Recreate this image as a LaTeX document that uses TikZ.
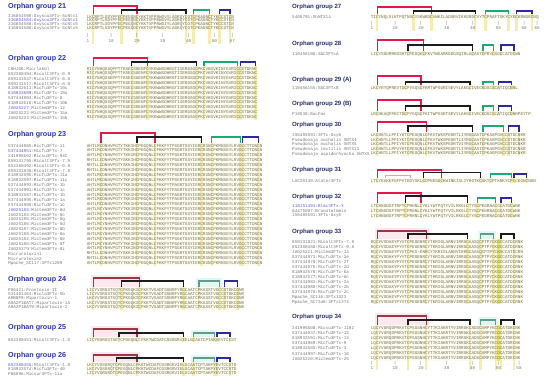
\documentclass[tikz,border=0pt]{standalone}
\usepackage{fontspec}
\setsansfont{Liberation Sans}
\setmonofont{Liberation Mono}
\usepackage{tikz}
\usetikzlibrary{calc}
\usepackage{xcolor}
\definecolor{grptitle}{HTML}{2B33B5}
\definecolor{grptitleR}{HTML}{2A2F6E}
\definecolor{seqink}{HTML}{727264}
\definecolor{nameink}{HTML}{767676}
\definecolor{nameblue}{HTML}{5A5AD8}
\definecolor{ssred}{HTML}{E8174B}
\definecolor{ssmaroon}{HTML}{9E3444}
\definecolor{ssgreen}{HTML}{1DAA72}
\definecolor{ssteal}{HTML}{5E9C8E}
\definecolor{ssblue}{HTML}{2B2B9E}
\definecolor{ssblack}{HTML}{1C1C1C}
\definecolor{sspale}{HTML}{F2A0A8}
\definecolor{cysbg}{HTML}{F5ECB0}
\definecolor{blockbg}{HTML}{FEFCEC}
\definecolor{hotcol}{HTML}{F2EC3A}
\definecolor{pinkbox}{HTML}{FCE8EE}
\definecolor{cyanbox}{HTML}{E3F6F2}

\def\colw{2.58}
% bracket over two cysteines: style, x of col 1, from col, to col, top y, foot y
\newcommand{\ssbond}[6]{\draw[#1] ({#2+(#3-1)*\colw},#6) |- ({#2+(#4-1)*\colw},#5) -- ({#2+(#4-1)*\colw},#6);}
% shaded column
\newcommand{\cyscol}[5][cysbg]{\fill[#1] ({#2+(#3-1.5)*\colw},#4) rectangle ({#2+(#3-0.5)*\colw},#5);}
% soft box behind a bracket
\newcommand{\bondbox}[6]{\fill[#1] ({#2+(#3-2)*\colw},{#5-3}) rectangle ({#2+(#4)*\colw},{#6+1});}

\begin{document}
\begin{tikzpicture}[x=1pt,y=-1pt,
  grouptitle/.style={anchor=west, inner sep=0pt, text=grptitle, font=\sffamily\bfseries\fontsize{7.2}{8}\selectfont},
  grouptitleR/.style={grouptitle, text=grptitleR, font=\sffamily\bfseries\fontsize{6.1}{7}\selectfont},
  seqname/.style={anchor=west, inner sep=0pt, text=nameink, font=\ttfamily\fontsize{4.3}{5}\selectfont},
  seqtext/.style={seqname, text=seqink},
  poslabel/.style={inner sep=0pt, text=nameink, font=\ttfamily\fontsize{4.3}{5}\selectfont},
  ssR/.style={draw=ssred, line width=1.25pt},
  ssK/.style={draw=ssblack, line width=1.25pt},
  ssG/.style={draw=ssgreen, line width=1.25pt},
  ssB/.style={draw=ssblue, line width=1.25pt},
  ssM/.style={draw=ssmaroon, line width=1.25pt},
  ssT/.style={draw=ssteal, line width=1.25pt},
  ssP/.style={draw=sspale, line width=0.6pt}]
\useasboundingbox (0,0) rectangle (550,385);
\fill[white] (0,0) rectangle (550,385);

% ---------------- left column ----------------
% group 21
\node[grouptitle] (t21) at (8,7) {Orphan group 21};
\fill[blockbg] (86.7,14.5) rectangle (233.8,31);
\foreach \c in {3,14,20,39,42,48,52,56} {\cyscol{88}{\c}{14.5}{44}}
\ssbond{ssR}{88}{3}{20}{6}{14.5}
\ssbond{ssK}{88}{14}{39}{10}{14.5}
\ssbond{ssG}{88}{42}{48}{10}{14.5}
\ssbond{ssB}{88}{52}{56}{10}{14.5}
\foreach \nm/\sq [count=\i] in {
  316854590:Oxyscu3FTx-ScNtx1/LKCRPTLSDYPFECPEGQNCYKKTVFPRWGVYLAGRQYCGTCPKAGNCTYKCCSTCN,
  \textcolor{nameblue}{316854584:Oxyscu3FTx-ScNtx1}/LKCRPTLSDYPFECPEGQNCYKKTVFPRWGVYLAGRQYCGTCPKAGNCTYKCCSTCN,
  316854588:Oxyscu3FTx-ScNtx5/LKCRPTLSDYPFECPEGQNCYKKTVFPRWGIYLAGRQYCGTCPKAGNCTYKCCSTCN,
  316854586:Oxyscu3FTx-ScNtx5/LKCRPTLSDYPFECPEGQDCYKKTVFPRWGVYLAGKQYCGTCPKAGNCTYKCCSTCN}
{
  \node[seqname] (g21n\i) at (8,{17+(\i-1)*3.9}) {\nm};
  \node[seqtext] (g21s\i) at (86.7,{17+(\i-1)*3.9}) {\sq};
}
\foreach \n in {1,10,20,30,40,50,57} {
  \node[poslabel] (g21t\n) at ({88+(\n-1)*\colw},35) {|};
  \node[poslabel] (g21p\n) at ({88+(\n-1)*\colw},41) {\n};
}

% group 22
\node[grouptitle] (t22) at (8,59) {Orphan group 22};
\fill[blockbg] (86.7,66.5) rectangle (256.3,120);
\foreach \c in {3,18,24,43,46,59,60,66} {\cyscol{88}{\c}{66.5}{120}}
\ssbond{ssR}{88}{3}{24}{58}{66}
\ssbond{ssK}{88}{18}{43}{62}{66}
\ssbond{ssG}{88}{46}{59}{62}{66}
\ssbond{ssB}{88}{60}{66}{62}{66}
\foreach \nm/\sq [count=\i] in {
  C0HJD6:Micrlakbl/RICYNHQSSQPPTTKSECSGENFCYKKWWSDHRGTIIERGSGCPKCVKGVKINYGVRICCSTDKNC,
  852380494:Micalt3FTx-0.9/RICYNHQSSQPPTTKSECSGENFCYKKWWSDHRGTIIERGSGCPKCVKGVKINYGVRICCSTDKNC,
  859131547:Micalt3FTx-8.0/RICYNHQSSEPPTTKSECSGENFCYKKWWSDHRGTIIERGSGCPKCVKGVKINYGVRICCSTDKNC,
  859131517:Micalt3FTx-8.0/RICYNHQSSEPPTTKSECSGENFCYKKWWSDHRGTIIERGSGCPKCVKGVKINYGVRICCSTDKNC,
  818932611:Micfu3FTx-10c/KICYNHQSSQPPTTKSECSGENFCYKKWWSDHRGTIIERGSGCPKCVKGVKIHYGVRICCSTDKNC,
  \textcolor{nameblue}{818932609}:Micfu3FTx-10a/KICYNHQSSQPPTTKSECSGENFCYKKWWSDHRGTIIERGSGCPKCVKGVKIHYGVRICCSTDKNC,
  537444993:Micfu3FTx-8/KICYNHQSSQPPTTKTECSGENFCYKKWWSDHRGTIIERGSGCPKCVKGVKIHYGVRICCSTDKNC,
  818932610:Micfu3FTx-10b/KICYNHQSSQPPTTKSECSGENFCYKKWWSDHRGTIIERGSGCPKCVKGVKIHYGVRICCSTDKNC,
  \textcolor{nameblue}{JA025227}:Mictem3FTx-12/RICYNHQSSQPPTTKSECSGENFCYKKWWSDHRGTIIERGSGCPKCVKGVKINYGVRICCSTDKNC,
  JA025222:Mictem3FTx-15a/RICYNHQSSQPPTTKSECSGENFCYKKWWSDHRGTIIERGSGCPKCVKGVKINYGVRICCSTDKNC,
  JA025223:Mictem3FTx-15b/RICYNHQSSQPPTTKSECSGENFCYKKWWSDHRGTIIERGSGCPKCVKGVKIHYGVRICCSTDKNC}
{
  \node[seqname] (g22n\i) at (8,{69+(\i-1)*4.85}) {\nm};
  \node[seqtext] (g22s\i) at (86.7,{69+(\i-1)*4.85}) {\sq};
}

% group 23
\node[grouptitle] (t23) at (8,135) {Orphan group 23};
\fill[blockbg] (86.7,143.5) rectangle (261.4,266);
\foreach \c in {6,20,27,45,49,60,61,67} {\cyscol{88}{\c}{143.5}{266}}
\ssbond{ssR}{88}{6}{27}{133}{143}
\ssbond{ssK}{88}{20}{45}{137}{143}
\ssbond{ssG}{88}{49}{60}{137}{143}
\ssbond{ssB}{88}{61}{67}{137}{143}
\foreach \nm/\sq [count=\i] in {
  537444985:Micfu3FTx-11/AHTLMCDNHVPGTYTKKIHCPEGQNLCFKKFYTPSGRTGSYIERCRSNCPKMNSGYLRVGCCTTDNCN,
  \textcolor{nameblue}{537444951}:Micfu3FTx-7/AHTLMCDNHVPGTYTKKIHCPEGQNLCFKKFYTPSGRTGSYIERCRSNCPKMNSGYLRVGCCTTDNCN,
  241995602:Micsu3FTx-94C/AHTLMCYNHVPGTYTKKIRCPEGQNLCFKKFYTPSGKTGSYIERCRSNCPKMNSGYLRVGCCTTDNCN,
  859131795:Micalt3FTx-7.9/RHTLLCDNHVPGTYSKKIHCPEGQNLCFKKFYTPSGRTGSYIERCRSNCPKMNSGYLRVGCCTTDNCN,
  852380492:Micalt3FTx-0.8/RHTLLCDNHVPGTYSKKIHCPEGQNLCFKKFYTPSGRTGSYIERCRSNCPKMNSGYLRVGCCTTDNCN,
  859131838:Micalt3FTx-7.8/RHTLLCDNHVPGTYSKKIHCPEGQNLCFKKFYTPSGRTGSYIERCRSNCPKMNSGYLRVGCCTTDNCN,
  818932595:Micfu3FTx-11a/AHTLMCDNHVPGTYTKKIHCPEGQNLCFKKFYTPSGRTGSYIERCRSNCPKMNSGYLRVGCCTTDNCN,
  818932597:Micfu3FTx-11c/AHTLMCDNHVPGTYTKKIHCPEGQNLCFKKFYTPSGRTGSYIERCRSNCPKMNSGYLRVGCCTTDNCN,
  537444993:Micfu3FTx-1b/AHTLMCDNHVPGTYTKKIHCPEGQNLCFKKFYTPAGRTGSYIERCRSNCPKMNSGYLRVGCCTTDNCN,
  537444991:Micfu3FTx-1c/AHTLMCDNHVPGTYTKKIHCPEGQNLCFKKFYTPAGRTGSYIERCRSNCPKMNSGYLRVGCCTTDNCN,
  818932587:Micfu3FTx-1b/AHTLMCDNHVPGTYTKKIHCPEGQNLCFKKFYTPAGRTGSYIERCRSNCPKMNSGYLRVGCCTTDNCN,
  537444995:Micfu3FTx-1a/AHTLMCDNHVPGTYTKKIHCPEGQNLCFKKFYTPAGRTGSYIERCRSNCPKMNSGYLRVGCCTTDNCN,
  537444988:Micfu3FTx-1c/AHTLMCDNHVPGTYTKKIHCPEGQNLCFKKFYTPSGRTGSYIERCRSNCPKMNSGYLRVGCCTTDNCN,
  \textcolor{nameblue}{JA025183}:Mictem3FTx-8d/AHTLMCYNHVPGTYTKKIRCPEGQNLCFKKFYTPSGKTGSYIERCRSNCPKMNSGYLRVGCCTTDNCN,
  JA025184:Mictem3FTx-8c/AHTLMCYNHVPGTYTKKIRCPEGQNLCFKKFYTPSGKTGSYIERCRSNCPKMNSGYLRVGCCTTDNCN,
  JA025185:Mictem3FTx-8g/AHTLMCYNHVPGTYTKKIRCPEGQNLCFKKFYTPSGKTGSYIERCRSNCPKMNSGYLRVGCCTTDNCN,
  JA025186:Mictem3FTx-8d/AHTLMCYNHVPGTYTKKIRCPEGQNLCFKKFYTPSGKTGSYIERCRSNCPKMNSGYLRVGCCTTDNCN,
  JA025187:Mictem3FTx-8b/AHTLMCYNHVPGTYTKKIRCPEGQNLCFKKFYTPSGKTGSYIERCRSNCPKMNSGYLRVGCCTTDNCN,
  JA025188:Mictem3FTx-8a/AHTLMCYNHVPGTYTKKIRCPEGQNLCFKKFYTPSGKTGSYIERCRSNCPKMNSGYLRVGCCTTDNCN,
  JA025182:Mictem3FTx-8e/AHTLMCYNHVPGTYTKKIRCPEGQNLCFKKFYTPSGKTGSYIERCRSNCPKMNSGYLRVGCCTTDNCN,
  JA025180:Mictem3FTx-8f/AHTLMCYNHVPGTYTKKIRCPEGQNLCFKKFYTPSGKTGSYIERCRSNCPKMNSGYLRVGCCTTDNCN,
  JA025179:Mictem3FTx-8i/AHTLMCYNHVPGTYTKKIRCPEGQNLCFKKFYTPSGKTGSYIERCRSNCPKMNSGYLRVGCCTTDNCN,
  Micrurotoxin1/RHTLLCDNHVPGTYSKKIHCPEGQNLCFKKFYTPSGRTGSYIERCRSNCPKMNSGYLRVGCCTTDNCN,
  Micrurotoxin2/RHTLLCDNHVPGTYSKKIHCPEGQNLCFKKFYTPSGRTGSYIERCRSNCPKMNSGYLRVGCCTTDNCN,
  Mpache\_SC117:3FTx1299/AHTLMCDNHVPGTYTKKIHCPEGQNLCFKKFYTPSGRTGSYIERCRSNCPKMNSGYLRVGCCTTDNCN}
{
  \node[seqname] (g23n\i) at (8,{146+(\i-1)*4.9}) {\nm};
  \node[seqtext] (g23s\i) at (86.7,{146+(\i-1)*4.9}) {\sq};
}

% group 24
\node[grouptitle] (t24) at (8,280) {Orphan group 24};
\bondbox{pinkbox}{88}{3}{21}{278}{287}
\bondbox{cyanbox}{88}{44}{52}{281}{287}
\fill[blockbg] (86.7,287.5) rectangle (243.4,310);
\foreach \c in {3,14,21,38,44,52,54,59} {\cyscol{88}{\c}{287.5}{310}}
\ssbond{ssM}{88}{3}{21}{278}{287}
\ssbond{ssK}{88}{14}{38}{281}{287}
\ssbond{ssT}{88}{44}{52}{281}{287}
\ssbond{ssB}{88}{54}{59}{281}{287}
\foreach \nm/\sq [count=\i] in {
  P86421:Frontoxin-II/LICYVSRGSTSQTCPKGQKICFKKTVSADTSGNRFYRGCAATCPKASSTVGCCSTDKCDNR,
  531481464:Micla3FTx-5b/LICYVSRGSTSQTCPKGQKICFKKTVSADTSGNRFYRGCAATCPKASSTVGCCSTDKCDNR,
  A0B8P9:Mipartoxin-1/LKCYVSRGSTSQTCPKGQKICFKKTVSAGTSGNRFYRGCAATCPKASSTVGCCSTDKCDNR,
  A0A2P1BAT7:Mipartoxin-1A/LKCYVSRGSTSQTCPKGQKICFKKTVSADTSGNRFYRGCAATCPKASSTVGCCSTDKCDNR,
  A0A2P1BAT9:Mipartoxin-2/LKCYVSRGSTSQTCPKGQKICFKKTVSADTSGNRFYRGCAATCPKASSTVGCCSTDKCDNR}
{
  \node[seqname] (g24n\i) at (8,{290+(\i-1)*4.4}) {\nm};
  \node[seqtext] (g24s\i) at (86.7,{290+(\i-1)*4.4}) {\sq};
}

% group 25
\node[grouptitle] (t25) at (8,328) {Orphan group 25};
\bondbox{pinkbox}{88}{3}{20}{329}{337}
\bondbox{cyanbox}{88}{42}{50}{333}{337}
\fill[blockbg] (86.7,337.5) rectangle (238.3,342.5);
\foreach \c in {3,13,20,38,42,50,51,56} {\cyscol{88}{\c}{337.5}{342.5}}
\ssbond{ssM}{88}{3}{20}{329}{337}
\ssbond{ssK}{88}{13}{38}{333}{337}
\ssbond{ssT}{88}{42}{50}{333}{337}
\ssbond{ssB}{88}{51}{56}{333}{337}
\node[seqname] (g25n1) at (8,340) {852380451:Micalt3FTx-1.0};
\node[seqtext] (g25s1) at (86.7,340) {LICYNSRDSTSETCPDGQNLCFKKTWCDAFCGSRGRVIELGCAATCPTAKVEVTCCST};

% group 26
\node[grouptitle] (t26) at (8,356) {Orphan group 26};
\bondbox{pinkbox}{88}{3}{20}{355}{362}
\bondbox{cyanbox}{88}{42}{50}{358}{362}
\fill[blockbg] (86.7,362.5) rectangle (238.3,376);
\foreach \c in {3,12,20,38,42,50,51,56} {\cyscol{88}{\c}{362.5}{376}}
\ssbond{ssM}{88}{3}{20}{355}{362}
\ssbond{ssK}{88}{12}{38}{358}{362}
\ssbond{ssT}{88}{42}{50}{358}{362}
\ssbond{ssB}{88}{51}{56}{358}{362}
\foreach \nm/\sq [count=\i] in {
  \textcolor{nameblue}{852380455}:Micalt3FTx-1.9/LKCYVGSGRQTCPEGQNLCFKKTWCDAFCGSRGKVIELGCAATCPTAKPYEVTCCSTD,
  818932574:Micfu3FTx-40/LKCYVGSGRQTCPEGQNLCFKKTWCDAFCGSRGRVIELGCAATCPTAKPYEVTCCSTD,
  P86096:Micsur3FTx-11a/LICYVSRGRDTCPEGQNLCFKKTWCDAFCGSRGKVIELGCAATCPTAKPYEVTCCSTD}
{
  \node[seqname] (g26n\i) at (8,{365+(\i-1)*4.3}) {\nm};
  \node[seqtext] (g26s\i) at (86.7,{365+(\i-1)*4.3}) {\sq};
}

% ---------------- right column ----------------
% group 27
\node[grouptitleR] (t27) at (292,7) {Orphan group 27};
\fill[blockbg] (370.7,14.5) rectangle (539.3,19.5);
\foreach \c in {3,17,24,41,45,54,57,63} {\cyscol{372}{\c}{14.5}{31}}
\ssbond{ssR}{372}{3}{24}{7}{14.5}
\ssbond{ssK}{372}{17}{41}{11}{14.5}
\ssbond{ssG}{372}{45}{54}{11}{14.5}
\ssbond{ssB}{372}{57}{63}{11}{14.5}
\node[seqname] (g27n1) at (292,17) {5405791:ShNTX14};
\node[seqtext] (g27s1) at (370.7,17) {TICYNQLSLKTPQTNSCYSKWRDCVWKILADGRVIKKGRDCVYTCPRAFTGKYCYDCKRNDRCNQ};
\foreach \n in {1,10,20,30,40,50,60,65} {
  \node[poslabel] (g27t\n) at ({372+(\n-1)*\colw},23) {|};
  \node[poslabel] (g27p\n) at ({372+(\n-1)*\colw},28) {\n};
}

% group 28
\node[grouptitleR] (t28) at (292,44) {Orphan group 28};
\fill[blockbg] (370.7,51.5) rectangle (521.3,56.5);
\foreach \c in {3,15,21,40,44,48,51,56} {\cyscol{372}{\c}{51.5}{56.5}}
\ssbond{ssR}{372}{3}{21}{40}{51}
\ssbond{ssK}{372}{15}{40}{45}{51}
\ssbond{ssG}{372}{44}{48}{45}{51}
\ssbond{ssB}{372}{51}{56}{45}{51}
\node[seqname] (g28n1) at (292,54) {110456106:SbC3FTxA};
\node[seqtext] (g28s1) at (370.7,54) {LICYSGDMRKDSHTCPEGQKCFKVTWKARKEDGSQIRLACASTCPRVCSGCCATDCWN};

% group 29 (A)
\node[grouptitleR] (t29a) at (292,80) {Orphan group 29 (A)};
\fill[blockbg] (370.7,85.5) rectangle (518.7,90.5);
\foreach \c in {3,14,20,39,44,48,50,55} {\cyscol{372}{\c}{85.5}{90.5}}
\ssbond{ssR}{372}{3}{20}{76}{85}
\ssbond{ssK}{372}{14}{39}{82}{85}
\ssbond{ssG}{372}{44}{48}{82}{85}
\ssbond{ssB}{372}{50}{55}{82}{85}
\node[seqname] (g29an1) at (292,88) {110456155:SbC3FTxB};
\node[seqtext] (g29as1) at (370.7,88) {LKCYRTQPREVTDCPYGQSCFKMTWPSGRISEVYLAKGCIVECKDGCSCATIQCNNL};

% group 29 (B)
\node[grouptitleR] (t29b) at (292,104) {Orphan group 29 (B)};
\fill[blockbg] (370.7,111.5) rectangle (531.6,116.5);
\foreach \c in {3,14,20,39,44,48,50,55} {\cyscol{372}{\c}{111.5}{116.5}}
\ssbond{ssR}{372}{3}{20}{100}{111}
\ssbond{ssK}{372}{14}{39}{106}{111}
\ssbond{ssG}{372}{44}{48}{106}{111}
\ssbond{ssB}{372}{50}{55}{106}{111}
\node[seqname] (g29bn1) at (292,114) {P19538:BucFas};
\node[seqtext] (g29bs1) at (370.7,114) {LRCHKAQFPKCTDCPYGQSCFKITWPSGRTSEVYLAKGCIVECKDGCSCATIQCDNRPEYTP};

% group 30
\node[grouptitleR] (t30) at (292,125) {Orphan group 30};
\fill[blockbg] (370.7,133) rectangle (526.7,156.5);
\foreach \c in {3,15,22,40,44,52,54,58} {\cyscol{372}{\c}{133}{156.5}}
\ssbond{ssR}{372}{3}{22}{122}{132.5}
\ssbond{ssK}{372}{15}{40}{126}{132.5}
\ssbond{ssG}{372}{44}{52}{126}{132.5}
\ssbond{ssB}{372}{54}{58}{126}{132.5}
\foreach \nm/\sq [count=\i] in {
  156485591:3FTx-Oxy6/LKCHNTLLPFIYKTCPEGQNLCFKVTWKSPEGRTLIYRGCAATCPKAGPGVCCSTDCNKR,
  Pseudonaja nuchalis SNTX4/LKCHNTLLPFIYKTCPEGQNLCFKVTWKSPEGRTLIYRGCAATCPKAGPGVCCSTDCNKR,
  Pseudonaja nuchalis SNTX5/LKCHNTLLPFIYKTCPEGQNLCFKVTWKSPEGRTVIYRGCAATCPKAGPGVCCSTDCNKR,
  Pseudonaja textilis SNTX13/LKCHNTLLPFVYKTCPEGQNLCFKVTWKSPEGRTLIYRGCAATCPKAGPGVCCSTDCNKR,
  Pseudonaja aspidorhyncha SNTX5/LKCHNTLLPFIYKTCPEGQNLCFKVTWKSPEGRTLIYRGCAATCPKAGPGVCCSTDCNKR}
{
  \node[seqname] (g30n\i) at (292,{135.5+(\i-1)*4.6}) {\nm};
  \node[seqtext] (g30s\i) at (370.7,{135.5+(\i-1)*4.6}) {\sq};
}

% group 31
\node[grouptitleR] (t31) at (292,170) {Orphan group 31};
\fill[blockbg] (370.7,178.5) rectangle (536.8,183.5);
\foreach \c in {3,21,28,43,47,55,56,61} {\cyscol{372}{\c}{178.5}{183.5}}
\ssbond{ssR}{372}{3}{28}{170}{178}
\ssbond{ssP}{372}{6}{16}{175}{178}
\ssbond{ssK}{372}{21}{43}{172.5}{178}
\ssbond{ssG}{372}{47}{55}{174}{178}
\ssbond{ssB}{372}{56}{61}{174}{178}
\node[seqname] (g31n1) at (292,181) {LAC20140:Atater3FTx};
\node[seqtext] (g31s1) at (370.7,181) {LTCYKAKEFGFPVTEDYSKLCDPNKSGCKWINKISLIYRGTKCAKTCPTKNKYCPCCKGNCNKN};

% group 32
\node[grouptitleR] (t32) at (292,197) {Orphan group 32};
\fill[blockbg] (370.7,203.5) rectangle (519.9,218.5);
\foreach \c in {3,14,20,38,42,49,51,55} {\cyscol{372}{\c}{203.5}{218.5}}
\ssbond{ssR}{372}{3}{20}{193}{203}
\ssbond{ssK}{372}{14}{38}{196}{203}
\ssbond{ssG}{372}{42}{49}{198}{203}
\ssbond{ssB}{372}{51}{55}{198}{203}
\foreach \nm/\sq [count=\i] in {
  \textcolor{nameblue}{118151491:Blac3FTx-3}/LTCHNGDSFTRPTCPRHNLCYKLYWTPQTYVILRKGLCTYSCPEGRNACGCATDCWNK,
  84475097:Brunotalomin/LTCHNGDSFTRPTCPRHNLCYKLYWTPQTYVILRKGLCTYSCPEGRNACGCATDCWNK,
  156485591:3FTx-Oxy5/LTCHNGNSFTRPTCPRHNLCYKLYWTPQTYVILRKGLCTYSCPEGRNACGCATDCWNK}
{
  \node[seqname] (g32n\i) at (292,{206+(\i-1)*5}) {\nm};
  \node[seqtext] (g32s\i) at (370.7,{206+(\i-1)*5}) {\sq};
}

% group 33
\node[grouptitleR] (t33) at (292,232) {Orphan group 33};
\bondbox{pinkbox}{372}{3}{22}{231}{239}
\bondbox{cyanbox}{372}{43}{48}{234}{239}
\fill[blockbg] (370.7,239.5) rectangle (522.5,304.5);
\foreach \c in {3,15,22,38,43,48,51,56} {\cyscol{372}{\c}{239.5}{304.5}}
\cyscol[hotcol]{372}{50}{239.5}{304.5}
\ssbond{ssM}{372}{3}{22}{231}{239}
\ssbond{ssK}{372}{15}{38}{234}{239}
\ssbond{ssT}{372}{43}{48}{234}{239}
\ssbond{ssK}{372}{51}{56}{234}{239}
\foreach \nm/\sq [count=\i] in {
  859131821:Micalt3FTx-7.8/RQCYVSDAEYPYVTCPEGENRCYTKRIGLARNVIRRGCAASQCPTPYCKGCCATDCRNK,
  852380488:Micalt3FTx-9.8/RQCYVSDAEYPYVTCPEGENRCYTKRIGLARNVIRRGCAASQCPTPYCKGCCATDCRNK,
  JA025221:Mictem3FTx-14/RQCYVSDAEYPYVTCPEG-ENRCYTKRIGLARNVIRRGCAASQCPTPYCKGCCATDCRN,
  537444973:Micfu3FTx-2e/RQCYVSDAKYPYVTCPEGENRCYTKRIGLARNVIRRGCAASQCPTPYCKGCCATDCRNK,
  537444970:Micfu3FTx-2f/RQCYVSDAKYPYVTCPEGENRCYTKRIGLARNVIRRGCAASQCPTPYCKGCCATDCRNK,
  537444975:Micfu3FTx-2d/RQCYVSDAKYPYVTCPEGENRCYTKRIGLARNVIRRGCAASQCPTPYCKGCCATDCRNK,
  818932578:Micfu3FTx-6a/RQCYVSDAEYPYVTCPEGENRCYTKRIGLARNVIRRGCAASQCPTPYCKGCCATDCRNK,
  818932577:Micfu3FTx-6c/RQCYVSDAEYPYVTCPEGENRCYTKRIGLARNVIRRGCAASQCPTPYCKGCCATDCRNK,
  537444983:Micfu3FTx-2a/RQCYVSDAKYPYVTCPEGENRCYTKRIGLARNVIRRGCAASQCPTPYCKGCCATDCRNK,
  537444980:Micfu3FTx-2b/RQCYVSDAKYPYVTCPEGENRCYTKRIGLARNVIRRGCAASQCPTPYCKGCCATDCRNK,
  537444978:Micfu3FTx-2c/RQCYVSDAKYPYVTCPEGENRCYTKRIGLARNVIRRGCAASQCPTPYCKGCCATDCRNK,
  Mpache\_SC116:3FTx1323/RQCYVSDAEYPYVTCPEGENRCYTKRIGLARNVIRRGCAASQCPTPYCKGCCATDCRNK,
  Mpache\_SC7348:3FTx1374/RQCYVSDAEYPYVTCPEGENRCYTKRIGLARNVIRRGCAASQCPTPYCKGCCATDCRNK}
{
  \node[seqname] (g33n\i) at (292,{242+(\i-1)*5}) {\nm};
  \node[seqtext] (g33s\i) at (370.7,{242+(\i-1)*5}) {\sq};
}

% group 34
\node[grouptitleR] (t34) at (292,317) {Orphan group 34};
\bondbox{pinkbox}{372}{3}{22}{316}{325}
\bondbox{cyanbox}{372}{43}{49}{320}{325}
\fill[blockbg] (370.7,325.5) rectangle (519.9,361);
\foreach \c in {3,15,22,39,43,49,51,56} {\cyscol{372}{\c}{325.5}{370}}
\cyscol[hotcol]{372}{50}{325.5}{361}
\ssbond{ssM}{372}{3}{22}{316}{325}
\ssbond{ssK}{372}{15}{39}{320}{325}
\ssbond{ssT}{372}{43}{49}{320}{325}
\ssbond{ssK}{372}{51}{56}{320}{325}
\foreach \nm/\sq [count=\i] in {
  241995608:Micsu3FTx-1192/LQCYVGRQDPRKVTCPSGSNHCYTTKIAKRTYVIRRGKCADSCAMPYKCDCATDRCNK,
  537444937:Micfu3FTx-15/LQCYVGRQDPRKVTCPSGSNHCYTTKIAKRTYVIRRGKCADSCAMPYKCDCATDRCNK,
  818932591:Micfu3FTx-13/LQCYVGRQDPRKVTCPSGSNHCYTTKIAKRTYVIRRGKCADSCAMPYKCDCATDRCNK,
  537444969:Micfu3FTx-9/LQCYVGRQDPRKVTCPSGDNHCYTTKIAKRTYVIRRGKCADSCAMPYKCDCATDRCNK,
  818932585:Micfu3FTx-3/LQCYVGRQDPRKVTCPSGDNHCYTTKIAKRTYVIRRGKCADSCAMPYKCDCATDRCNK,
  537444997:Micfu3FTx-16/LQCYVGRQDPRKVTCPSGSNHCYTTKIAKRTYVIRRGKCADSCAMPYKCDCATDRCNK,
  JA025220:Mictem3FTx-25/LQCYVGRQDPRKVTCPSGSNHCYTTKIAKRTYVIRRGKCADSCAMPYKCDCATDRCNK}
{
  \node[seqname] (g34n\i) at (292,{328+(\i-1)*5.1}) {\nm};
  \node[seqtext] (g34s\i) at (370.7,{328+(\i-1)*5.1}) {\sq};
}
\foreach \n in {1,10,20,30,40,50,58} {
  \node[poslabel] (g34t\n) at ({372+(\n-1)*\colw},363) {|};
  \node[poslabel] (g34p\n) at ({372+(\n-1)*\colw},368) {\n};
}
\end{tikzpicture}
\end{document}
